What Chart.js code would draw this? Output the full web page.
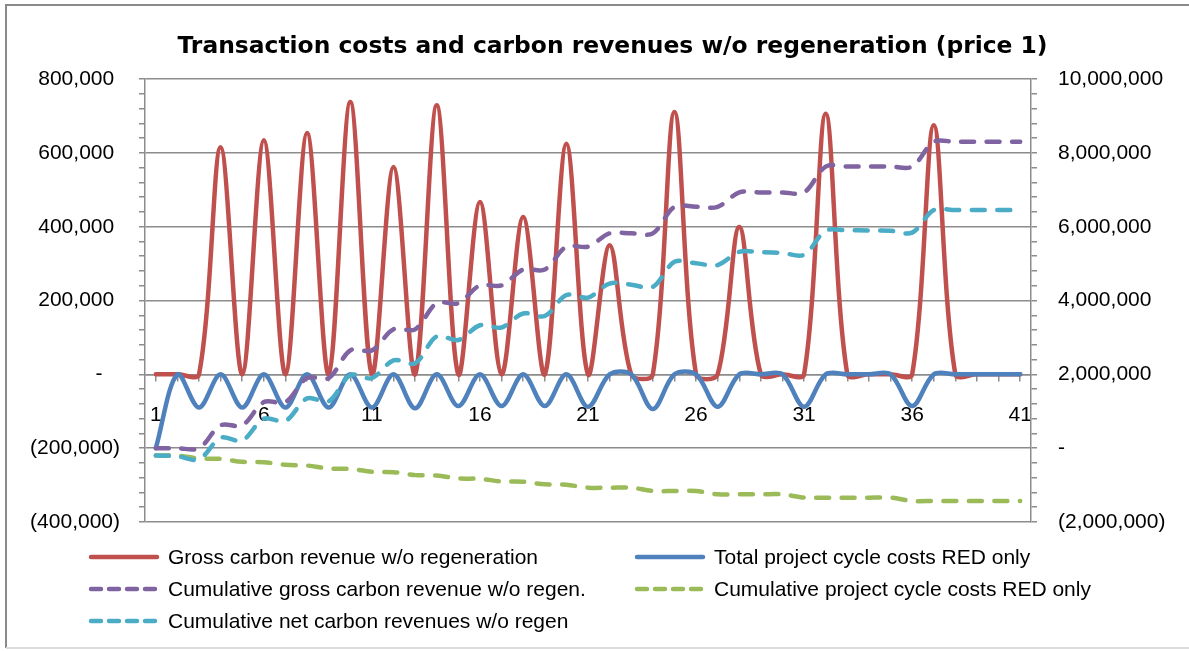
<!DOCTYPE html>
<html>
<head>
<meta charset="utf-8">
<script src="https://cdn.jsdelivr.net/npm/chart.js@4.4.1/dist/chart.umd.min.js"></script>
<style>
  html, body { margin: 0; padding: 0; background: #fff; }
  #wrap { position: relative; width: 1189px; height: 651px; }
  #legend { position: absolute; left: 0; top: 0; font-family: "Liberation Sans", Arial, sans-serif; font-size: 21px; color: #000; }
  .item { position: absolute; height: 32px; line-height: 32px; white-space: nowrap; }
  .item svg { position: absolute; left: 0; top: 11px; }
  .item span { position: absolute; left: 80px; top: 0; }
</style>
</head>
<body>
<div id="wrap">
  <canvas id="chart" width="1189" height="651"></canvas>
  <div id="legend"></div>
</div>
<script>
// periodos 1..41
const periods = [1,2,3,4,5,6,7,8,9,10,11,12,13,14,15,16,17,18,19,20,21,22,23,24,25,26,27,28,29,30,31,32,33,34,35,36,37,38,39,40,41];
const shownPeriods = [1, 6, 11, 16, 21, 26, 31, 36, 41];

// eje izquierdo
const grossRevenue = [0,0,0,615000,0,634000,0,654000,0,738000,0,562000,0,729000,0,467000,0,426000,0,625000,0,350000,0,0,711000,0,0,399000,0,0,0,706000,0,0,0,0,675000,0,0,0,0];
const totalCosts = [-200000,0,-90000,0,-90000,0,-90000,0,-90000,0,-90000,0,-92000,0,-86000,0,-86000,0,-86000,0,-88000,0,0,-94000,0,0,-88000,0,0,0,-88000,0,0,0,0,-86000,0,0,0,0,0];

// eje derecho
const cumGross = [0,0,0,620000,620000,1250000,1250000,1900000,1900000,2650000,2650000,3220000,3220000,3930000,3930000,4410000,4410000,4840000,4840000,5460000,5460000,5820000,5820000,5820000,6540000,6540000,6540000,6930000,6930000,6930000,6930000,7630000,7630000,7630000,7630000,7630000,8300000,8300000,8300000,8300000,8300000];
const cumCosts = [-200000,-200000,-280000,-290000,-370000,-380000,-450000,-470000,-550000,-560000,-640000,-650000,-730000,-740000,-820000,-830000,-900000,-910000,-980000,-990000,-1070000,-1070000,-1070000,-1160000,-1160000,-1160000,-1250000,-1250000,-1250000,-1250000,-1340000,-1340000,-1340000,-1340000,-1340000,-1430000,-1430000,-1430000,-1430000,-1430000,-1430000];
const cumNet = [-200000,-220000,-300000,280000,210000,800000,740000,1350000,1270000,1980000,1900000,2380000,2300000,3030000,2930000,3330000,3270000,3650000,3580000,4150000,4080000,4460000,4430000,4370000,5050000,5010000,4960000,5320000,5310000,5290000,5240000,5890000,5900000,5900000,5890000,5840000,6450000,6450000,6450000,6450000,6450000];

const seriesNames = [
  "Gross carbon revenue w/o regeneration",
  "Total project cycle costs RED only",
  "Cumulative gross carbon revenue w/o regen.",
  "Cumulative project cycle costs RED only",
  "Cumulative net carbon revenues w/o regen"
];
const seriesColors = ["#C0504D", "#4F81BD", "#8064A2", "#9BBB59", "#4BACC6"];

const FONT = "'Liberation Sans', Arial, sans-serif";
const GRID = "#8c8c8c";
const DASH = [13, 12.5];

function miles(n) {
  return Math.abs(n).toLocaleString("en-US");
}

function linea(i, data, axis, dashed, order) {
  return {
    label: seriesNames[i],
    data: data,
    yAxisID: axis,
    borderColor: seriesColors[i],
    backgroundColor: seriesColors[i],
    borderWidth: 4.5,
    borderDash: dashed ? DASH : [],
    borderCapStyle: "round",
    borderJoinStyle: "round",
    pointRadius: 0,
    tension: 0.33,
    fill: false,
    order: order
  };
}

const marco = {
  id: "marco",
  afterLayout(chart) {
    // el titulo en excel queda algo a la derecha del centro
    if (chart.titleBlock) {
      chart.titleBlock.left += 18;
      chart.titleBlock.right += 18;
    }
  },
  beforeDraw(chart) {
    const ctx = chart.ctx;
    ctx.save();
    ctx.fillStyle = "#fff";
    ctx.fillRect(0, 0, chart.width, chart.height);
    ctx.strokeStyle = "#8a8a8a";
    ctx.lineWidth = 2;
    ctx.beginPath();
    ctx.moveTo(6, 648);
    ctx.lineTo(6, 5);
    ctx.lineTo(chart.width, 5);
    ctx.stroke();
    ctx.strokeStyle = "#dcdcdc";
    ctx.beginPath();
    ctx.moveTo(6, 648);
    ctx.lineTo(chart.width, 648);
    ctx.stroke();
    ctx.restore();
  }
};

const chart = new Chart(document.getElementById("chart"), {
  type: "line",
  data: {
    labels: periods,
    datasets: [
      linea(0, grossRevenue, "y", false, 5),
      linea(1, totalCosts, "y", false, 4),
      linea(2, cumGross, "y1", true, 3),
      linea(3, cumCosts, "y1", true, 2),
      linea(4, cumNet, "y1", true, 1)
    ]
  },
  options: {
    responsive: false,
    animation: false,
    layout: { padding: { left: 0, right: 0, top: 0, bottom: 129 } },
    plugins: {
      legend: { display: false },
      tooltip: { enabled: false },
      title: {
        display: true,
        text: "Transaction costs and carbon revenues w/o regeneration (price 1)",
        color: "#000",
        font: { family: "'DejaVu Sans', " + FONT, size: 23.4, weight: "bold" },
        padding: { top: 33, bottom: 18 }
      }
    },
    scales: {
      x: {
        type: "category",
        position: { y: 0 },
        offset: true,
        grid: { drawOnChartArea: false, color: GRID, lineWidth: 1.5, tickLength: 6 },
        border: { color: GRID, width: 1.5 },
        ticks: {
          autoSkip: false,
          maxRotation: 0,
          padding: 22,
          color: "#000",
          font: { family: FONT, size: 21 },
          callback(v, i) {
            return shownPeriods.includes(periods[i]) ? String(periods[i]) : "";
          }
        }
      },
      y: {
        position: "left",
        min: -400000,
        max: 800000,
        afterFit(s) { s.width = 145; },
        grid: {
          color: c => (c.tick && c.tick.value % 200000 === 0) ? GRID : "rgba(0,0,0,0)",
          tickColor: GRID,
          lineWidth: 1.5,
          tickLength: 6
        },
        border: { color: GRID, width: 1.5 },
        ticks: {
          stepSize: 40000,
          autoSkip: false,
          padding: 19,
          color: "#000",
          font: { family: FONT, size: 21 },
          callback(v) {
            if (v % 200000 !== 0) return "";
            if (v === 0) return "-   ";
            if (v < 0) return "(" + miles(v) + ")";
            return miles(v) + " ";
          }
        }
      },
      y1: {
        position: "right",
        min: -2000000,
        max: 10000000,
        afterFit(s) { s.width = 158; },
        grid: { drawOnChartArea: false, color: GRID, lineWidth: 1.5, tickLength: 6 },
        border: { color: GRID, width: 1.5 },
        ticks: {
          stepSize: 400000,
          autoSkip: false,
          padding: 21,
          color: "#000",
          font: { family: FONT, size: 21 },
          callback(v) {
            if (v % 2000000 !== 0) return "";
            if (v === 0) return "-";
            if (v < 0) return "(" + miles(v) + ")";
            return miles(v);
          }
        }
      }
    }
  },
  plugins: [marco]
});

// leyenda en dos columnas como en excel
const legendPos = [
  { x: 88, y: 557 },
  { x: 634, y: 557 },
  { x: 88, y: 589 },
  { x: 634, y: 589 },
  { x: 88, y: 621 }
];
const legend = document.getElementById("legend");
chart.data.datasets.forEach((ds, i) => {
  const item = document.createElement("div");
  item.className = "item";
  item.style.left = legendPos[i].x + "px";
  item.style.top = (legendPos[i].y - 16) + "px";
  const dashed = ds.borderDash.length > 0;
  item.innerHTML =
    '<svg width="72" height="10"><line x1="3" y1="5" x2="69" y2="5" stroke="' + ds.borderColor +
    '" stroke-width="4.5" stroke-linecap="round"' + (dashed ? ' stroke-dasharray="10 8"' : '') +
    '/></svg><span>' + ds.label + '</span>';
  legend.appendChild(item);
});
</script>
</body>
</html>
